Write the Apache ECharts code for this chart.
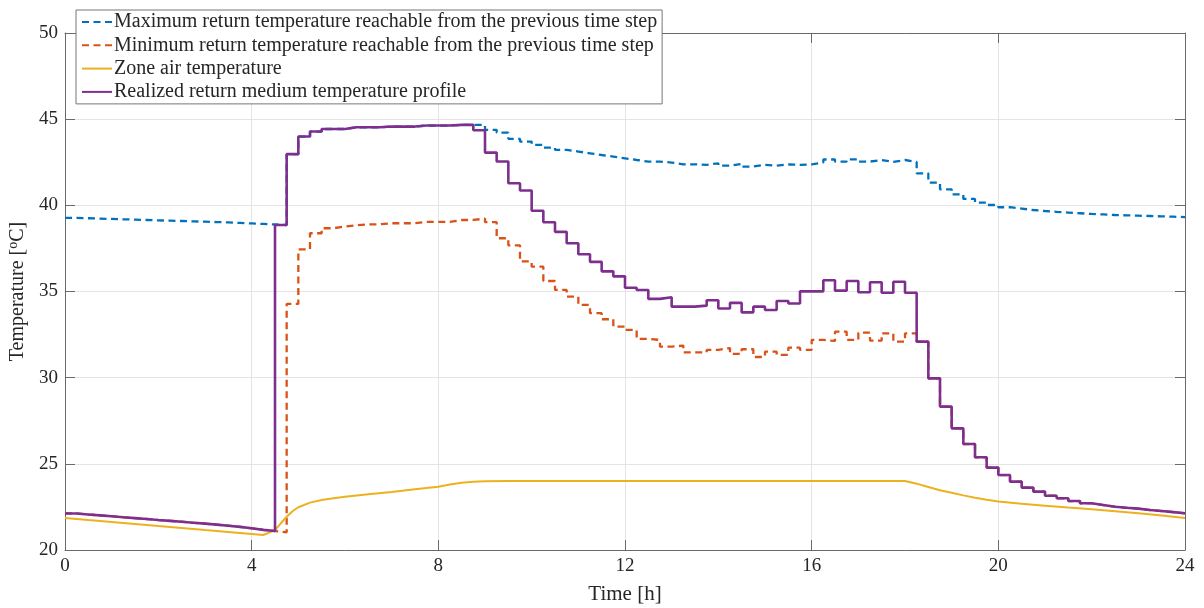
<!DOCTYPE html>
<html><head><meta charset="utf-8">
<script src="https://cdn.jsdelivr.net/npm/echarts@6/dist/echarts.min.js"></script>
<style>html,body{margin:0;padding:0;background:#fff}#c{width:1204px;height:608px}</style>
</head><body><div id="c"></div>
<script>
// Time grid of the stair series [h]
const TIME_H = [0,0.25,0.5,0.75,1,1.25,1.5,1.75,2,2.25,2.5,2.75,3,3.25,3.5,3.75,4,4.25,4.5,4.75,5,5.25,5.5,5.75,6,6.25,6.5,6.75,7,7.25,7.5,7.75,8,8.25,8.5,8.75,9,9.25,9.5,9.75,10,10.25,10.5,10.75,11,11.25,11.5,11.75,12,12.25,12.5,12.75,13,13.25,13.5,13.75,14,14.25,14.5,14.75,15,15.25,15.5,15.75,16,16.25,16.5,16.75,17,17.25,17.5,17.75,18,18.25,18.5,18.75,19,19.25,19.5,19.75,20,20.25,20.5,20.75,21,21.25,21.5,21.75,22,22.25,22.5,22.75,23,23.25,23.5,23.75,24];

// Maximum return temperature reachable from the previous time step [°C]
const T_MAX = [39.27,39.25,39.23,39.21,39.19,39.17,39.15,39.13,39.11,39.09,39.07,39.05,39.03,39.01,38.98,38.95,38.92,38.89,
  38.86,42.97,43.99,44.28,44.43,44.43,44.53,44.53,44.53,44.57,44.57,44.57,44.63,44.63,44.63,44.67,44.67,
  44.67,44.38,44.22,43.86,43.70,43.51,43.35,43.22,43.12,43.02,42.92,42.83,42.73,42.63,42.54,42.54,42.48,42.38,42.38,42.35,42.44,
  42.30,42.40,42.25,42.35,42.30,42.37,42.35,42.38,42.49,42.66,42.54,42.67,42.54,42.63,42.52,42.63,42.52,
  41.86,41.32,40.93,40.64,40.37,40.16,40.02,39.89,39.81,39.73,39.67,39.62,39.58,39.54,39.50,39.47,39.44,39.42,39.40,39.38,39.36,39.34,39.32,39.32];

// Minimum return temperature reachable from the previous time step [°C]
const T_MIN = [22.12,22.06,22.01,21.96,21.90,21.85,21.80,21.74,21.69,21.64,21.58,21.53,21.47,21.41,21.34,21.26,21.17,21.10,
  21.03,34.28,37.45,38.38,38.67,38.77,38.84,38.90,38.90,38.96,38.96,38.96,39.04,39.04,39.04,39.15,39.15,
  39.23,39.02,38.09,37.68,36.75,36.44,35.61,35.09,34.70,34.22,33.74,33.39,32.96,32.77,32.25,32.19,31.80,31.86,31.47,31.47,31.61,
  31.72,31.38,31.65,31.20,31.51,31.32,31.74,31.61,32.19,32.13,32.67,32.19,32.61,32.15,32.57,32.09,32.57,
  32.09,29.96,28.32,27.06,26.15,25.38,24.78,24.35,23.97,23.62,23.39,23.15,23.00,22.84,22.71,22.61,22.51,22.45,22.40,22.32,22.26,22.20,22.13,22.13];

// Realized return medium temperature profile [°C]
const T_RET = [22.12,22.06,22.01,21.96,21.90,21.85,21.80,21.74,21.69,21.64,21.58,21.53,21.47,21.41,21.34,21.26,21.17,21.10,
  38.86,42.97,43.99,44.28,44.43,44.43,44.53,44.53,44.53,44.57,44.57,44.57,44.63,44.63,44.63,44.67,44.67,
  44.36,43.06,42.54,41.28,40.86,39.69,39.02,38.46,37.80,37.16,36.72,36.17,35.88,35.22,35.09,34.57,34.67,34.12,34.12,34.18,34.49,
  34.01,34.34,33.79,34.12,33.93,34.45,34.30,35.01,35.01,35.65,35.05,35.61,34.96,35.54,34.93,35.57,34.93,
  32.09,29.96,28.32,27.06,26.15,25.38,24.78,24.35,23.97,23.62,23.39,23.15,23.00,22.84,22.71,22.61,22.51,22.45,22.40,22.32,22.26,22.20,22.13,22.13];

// Zone air temperature [°C]
const ZONE_TIME = [0,0.5,1,1.5,2,2.5,3,3.5,4,4.25,4.5,4.625,4.75,4.875,5,5.25,5.5,5.75,6,6.5,7,7.5,8,8.25,8.5,8.75,9,9.5,18,18.25,18.5,18.75,19,19.25,19.5,19.75,20,20.5,21,21.5,22,22.5,23,23.5,24];
const ZONE_T = [21.86,21.74,21.63,21.51,21.39,21.28,21.16,21.05,20.93,20.87,21.15,21.55,21.93,22.25,22.48,22.75,22.90,23.00,23.09,23.23,23.37,23.52,23.67,23.80,23.90,23.96,23.99,24.00,24.00,23.85,23.66,23.47,23.32,23.17,23.03,22.92,22.82,22.68,22.57,22.46,22.36,22.25,22.13,22.00,21.86];

const X_MIN = 0, X_MAX = 24, X_STEP = 4;
const Y_MIN = 20, Y_MAX = 50, Y_STEP = 5;

const NAMES = [
  'Maximum return temperature reachable from the previous time step',
  'Minimum return temperature reachable from the previous time step',
  'Zone air temperature',
  'Realized return medium temperature profile'
];

const FONT = 'Liberation Serif';
const TXT = '#262626';
const AX = '#6a6a6a';
const GRID = '#e4e4e4';
const DASH = [7, 4.5];

const pairs = (xs, ys) => xs.map((x, i) => [x, ys[i]]);

const chart = echarts.init(document.getElementById('c'), null, {renderer: 'canvas'});

const baseX = {
  type: 'value', min: X_MIN, max: X_MAX, interval: X_STEP,
  axisLine: {show: true, onZero: false, lineStyle: {color: AX, width: 1}},
  axisTick: {show: true, inside: true, length: 10, lineStyle: {color: AX}},
};
const baseY = {
  type: 'value', min: Y_MIN, max: Y_MAX, interval: Y_STEP,
  axisLine: {show: true, onZero: false, lineStyle: {color: AX, width: 1}},
  axisTick: {show: true, inside: true, length: 10, lineStyle: {color: AX}},
};

chart.setOption({
  animation: false,
  backgroundColor: '#fff',
  grid: {left: 65, right: 19, top: 33, bottom: 58, containLabel: false, outerBoundsMode: 'none'},
  xAxis: [
    Object.assign({}, baseX, {
      position: 'bottom',
      axisLabel: {color: TXT, fontFamily: FONT, fontSize: 19, margin: 7},
      splitLine: {show: true, lineStyle: {color: GRID, width: 1}},
      name: 'Time [h]', nameLocation: 'middle', nameGap: 34,
      nameTextStyle: {color: TXT, fontFamily: FONT, fontSize: 21}
    }),
    Object.assign({}, baseX, {
      position: 'top',
      axisLabel: {show: false}, splitLine: {show: false}
    })
  ],
  yAxis: [
    Object.assign({}, baseY, {
      position: 'left',
      axisLabel: {color: TXT, fontFamily: FONT, fontSize: 19, margin: 7},
      splitLine: {show: true, lineStyle: {color: GRID, width: 1}},
      name: '{n|Temperature [}{s|o}{n|C]}', nameLocation: 'middle', nameGap: 34,
      nameTextStyle: {
        color: TXT, fontFamily: FONT, fontSize: 20,
        rich: {
          n: {color: TXT, fontFamily: FONT, fontSize: 20},
          s: {color: TXT, fontFamily: FONT, fontSize: 14, padding: [0, 0, 9, 0]}
        }
      }
    }),
    Object.assign({}, baseY, {
      position: 'right',
      axisLabel: {show: false}, splitLine: {show: false}
    })
  ],
  legend: {
    orient: 'vertical', left: 76, top: 10,
    padding: [2, 5, 2, 5], itemGap: 3.3,
    itemWidth: 30, itemHeight: 14,
    backgroundColor: '#fff', borderColor: '#777', borderWidth: 1,
    itemStyle: {opacity: 0},
    textStyle: {color: TXT, fontFamily: FONT, fontSize: 20, lineHeight: 20, padding: [0, 0, 0, -3]},
    data: NAMES,
    z: 10
  },
  series: [
    {name: NAMES[0], type: 'line', step: 'end', symbol: 'none', data: pairs(TIME_H, T_MAX),
     color: '#0072BD', lineStyle: {color: '#0072BD', width: 2.3, type: DASH}, z: 2},
    {name: NAMES[1], type: 'line', step: 'end', symbol: 'none', data: pairs(TIME_H, T_MIN),
     color: '#D95319', lineStyle: {color: '#D95319', width: 2.3, type: DASH}, z: 3},
    {name: NAMES[2], type: 'line', symbol: 'none', data: pairs(ZONE_TIME, ZONE_T),
     color: '#EDB120', lineStyle: {color: '#EDB120', width: 2}, z: 4},
    {name: NAMES[3], type: 'line', step: 'end', symbol: 'none', data: pairs(TIME_H, T_RET),
     color: '#7E2F8E', lineStyle: {color: '#7E2F8E', width: 2.6}, z: 5}
  ]
});
</script>
</body></html>
